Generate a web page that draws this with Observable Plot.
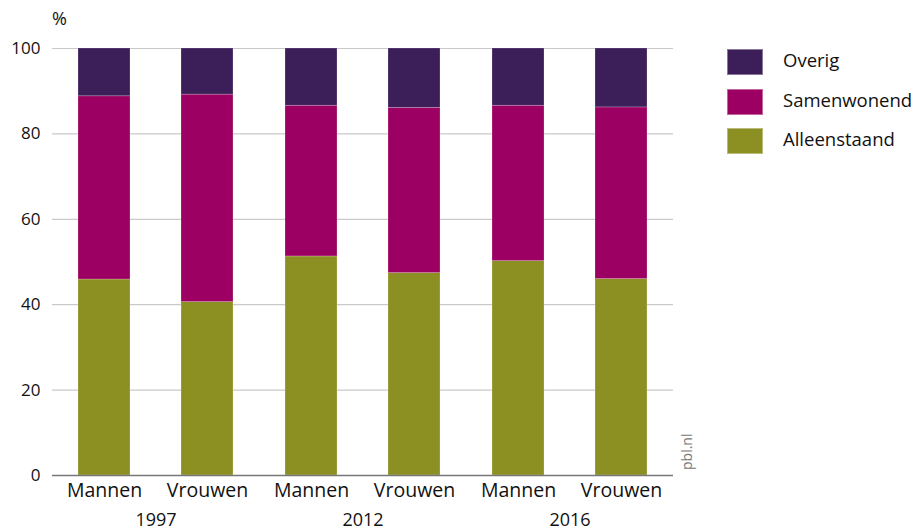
<!DOCTYPE html>
<html>
<head>
<meta charset="utf-8">
<script src="https://cdn.jsdelivr.net/npm/d3@7"></script>
<script src="https://cdn.jsdelivr.net/npm/@observablehq/plot@0.6"></script>
<style>
  body { margin: 0; background: #fff; font-family: "Open Sans", sans-serif; }
  #wrap { position: relative; width: 924px; height: 531px; }
  #pct { position: absolute; left: 52px; top: 6px; font-size: 18px; color: #111; }
  #src { position: absolute; left: 677px; top: 470px; transform: rotate(-90deg); transform-origin: 0 0; font-size: 14px; color: #777; }
  #legend { position: absolute; left: 727px; top: 49px; }
  .item { display: flex; align-items: center; height: 26px; margin-bottom: 13.5px; }
  .sw { width: 36px; height: 26px; margin-right: 20px; box-sizing: border-box; border: 1px solid rgba(255,255,255,0.4); }
  .lab { font-size: 18.5px; color: #111; line-height: 1; margin-top: -3px; }
</style>
</head>
<body>
<div id="wrap">
  <div id="chart"></div>
  <div id="pct">%</div>
  <div id="src">pbl.nl</div>
  <div id="legend"></div>
</div>
<script>
const years = ["1997", "2012", "2016"];
const genders = ["Mannen", "Vrouwen"];
const categories = ["Overig", "Samenwonend", "Alleenstaand"];
const colors = ["#3c1f59", "#9c0062", "#8c9023"];
// values per bar in order: 1997 M, 1997 V, 2012 M, 2012 V, 2016 M, 2016 V
const alleenstaand = [45.9, 40.6, 51.3, 47.4, 50.2, 46.0];
const samenwonend  = [42.9, 48.6, 35.3, 38.7, 36.4, 40.2];
const overig       = [11.2, 10.8, 13.4, 13.9, 13.4, 13.8];
const yTicks = [0, 20, 40, 60, 80, 100];

const series = {Alleenstaand: alleenstaand, Samenwonend: samenwonend, Overig: overig};
const data = [];
years.forEach((yr, i) => genders.forEach((g, j) => {
  const k = i * 2 + j;
  for (const c of ["Alleenstaand", "Samenwonend", "Overig"]) {
    data.push({year: yr, gender: g, category: c, value: series[c][k]});
  }
}));

const plot = Plot.plot({
  width: 924,
  height: 531,
  marginLeft: 52,
  marginRight: 251,
  marginTop: 48,
  marginBottom: 56,
  style: {fontFamily: "Open Sans, sans-serif", fontSize: "17px", color: "#111"},
  fx: {domain: years, padding: 0, label: null},
  x: {domain: genders, paddingInner: 0.5, paddingOuter: 0.25, label: null},
  y: {domain: [0, 100], label: null},
  color: {domain: categories, range: colors},
  marks: [
    Plot.ruleY(yTicks.filter(d => d > 0), {stroke: "#c9c9c9", strokeWidth: 1.2}),
    Plot.barY(data, {
      fx: "year", x: "gender", y: "value", fill: "category",
      order: ["Alleenstaand", "Samenwonend", "Overig"],
      stroke: "#ffffff", strokeOpacity: 0.35, strokeWidth: 0.6
    }),
    Plot.ruleY([0], {stroke: "#777", strokeWidth: 1.5}),
    Plot.axisY({ticks: yTicks, tickSize: 0, tickPadding: 12, label: null, fontSize: 17}),
    Plot.axisX({tickSize: 0, tickPadding: 8, label: null, fontSize: 19.5}),
    Plot.axisFx({anchor: "bottom", tickSize: 0, tickPadding: 38, label: null, fontSize: 18})
  ]
});
document.getElementById("chart").appendChild(plot);

const legend = document.getElementById("legend");
categories.forEach((c, i) => {
  const item = document.createElement("div");
  item.className = "item";
  const sw = document.createElement("div");
  sw.className = "sw";
  sw.style.background = colors[i];
  const lab = document.createElement("div");
  lab.className = "lab";
  lab.textContent = c;
  item.appendChild(sw);
  item.appendChild(lab);
  legend.appendChild(item);
});
</script>
</body>
</html>
